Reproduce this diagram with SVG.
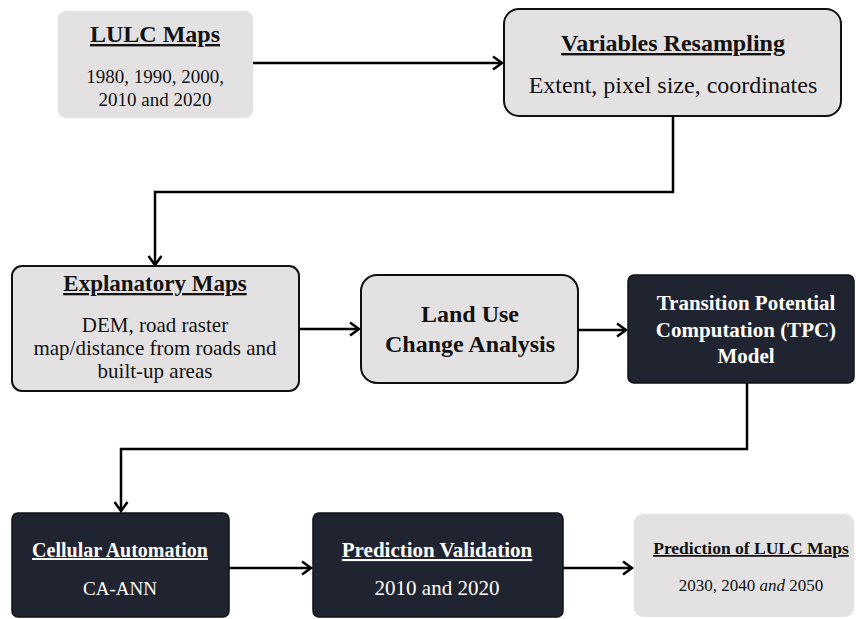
<svg xmlns="http://www.w3.org/2000/svg" width="856" height="619" viewBox="0 0 856 619">
<defs>
<marker id="arr" markerUnits="userSpaceOnUse" markerWidth="14" markerHeight="16" refX="11" refY="8" orient="auto">
<path d="M2,1.5 L11,8 L2,14.5" fill="none" stroke="#000" stroke-width="2.5"/>
</marker>
<style>
.light{fill:#e4e1e2}
.bord{stroke:#111;stroke-width:2}
.dark{fill:#1f2430;stroke:#111;stroke-width:1.5}
text{text-anchor:middle}
.t{font-weight:bold;text-decoration:underline}
.bk{fill:#111}
.wh{fill:#fff}
.conn{fill:none;stroke:#000;stroke-width:2.5}
</style>
</defs>
<rect width="856" height="619" fill="#fff"/>
<g id="connectors">
<path class="conn" d="M253,63 H502" marker-end="url(#arr)"/>
<path class="conn" d="M673,116 V192 H155 V265" marker-end="url(#arr)"/>
<path class="conn" d="M299,329 H359" marker-end="url(#arr)"/>
<path class="conn" d="M578,330 H626" marker-end="url(#arr)"/>
<path class="conn" d="M747,383 V449 H121 V511" marker-end="url(#arr)"/>
<path class="conn" d="M229,568 H311" marker-end="url(#arr)"/>
<path class="conn" d="M563,568 H632" marker-end="url(#arr)"/>
</g>
<g font-family="Liberation Serif, Times New Roman, DejaVu Serif, serif">
<g id="lulc-maps">
<rect class="light" x="58" y="11" width="195" height="107" rx="8"/>
<text class="t bk" x="155" y="42" font-size="24">LULC Maps</text>
<text class="bk" x="155" y="83" font-size="19">1980, 1990, 2000,</text>
<text class="bk" x="155" y="106" font-size="19">2010 and 2020</text>
</g>
<g id="variables-resampling">
<rect class="light bord" x="504" y="9" width="337" height="107" rx="15"/>
<text class="t bk" x="673" y="51" font-size="24">Variables Resampling</text>
<text class="bk" x="673" y="93" font-size="24">Extent, pixel size, coordinates</text>
</g>
<g id="explanatory-maps">
<rect class="light bord" x="12" y="266" width="287" height="125" rx="10"/>
<text class="t bk" x="155" y="291" font-size="23">Explanatory Maps</text>
<text class="bk" x="155" y="332" font-size="21">DEM, road raster</text>
<text class="bk" x="155" y="355" font-size="21">map/distance from roads and</text>
<text class="bk" x="155" y="378" font-size="21">built-up areas</text>
</g>
<g id="land-use">
<rect class="light bord" x="361" y="275" width="217" height="108" rx="16"/>
<text class="bk" x="470" y="322" font-size="24" font-weight="bold">Land Use</text>
<text class="bk" x="470" y="352" font-size="24" font-weight="bold">Change Analysis</text>
</g>
<g id="tpc">
<rect class="dark" x="628" y="275" width="226" height="108" rx="6"/>
<text class="wh" x="746" y="310" font-size="21" font-weight="bold">Transition Potential</text>
<text class="wh" x="746" y="337" font-size="21" font-weight="bold">Computation (TPC)</text>
<text class="wh" x="746" y="363" font-size="21" font-weight="bold">Model</text>
</g>
<g id="cellular-automation">
<rect class="dark" x="12" y="513" width="217" height="104" rx="6"/>
<text class="t wh" x="120" y="557" font-size="20">Cellular Automation</text>
<text class="wh" x="120" y="595" font-size="19">CA-ANN</text>
</g>
<g id="prediction-validation">
<rect class="dark" x="313" y="513" width="250" height="104" rx="6"/>
<text class="t wh" x="437" y="557" font-size="21">Prediction Validation</text>
<text class="wh" x="437" y="595" font-size="21">2010 and 2020</text>
</g>
<g id="prediction-lulc">
<rect class="light" x="634" y="514" width="220" height="103" rx="9"/>
<text class="t bk" x="751" y="554" font-size="17.5">Prediction of LULC Maps</text>
<text class="bk" x="751" y="591" font-size="17">2030, 2040 <tspan font-style="italic">and</tspan> 2050</text>
</g>
</g>
</svg>
